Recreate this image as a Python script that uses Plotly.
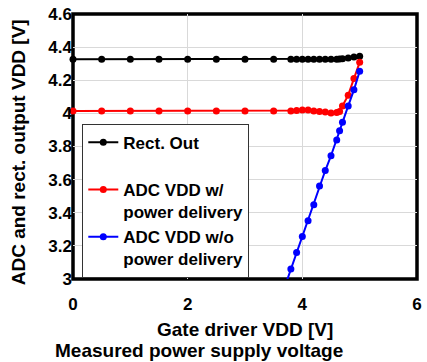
import plotly.graph_objects as go

# Gate driver supply sweep [V]
gate_vdd = [0, 0.5, 1, 1.5, 2, 2.5, 3, 3.5, 3.8, 3.9, 4.0, 4.1, 4.2, 4.3,
            4.4, 4.5, 4.6, 4.65, 4.7, 4.8, 4.9, 5.0]

# Rectifier output [V]
rect_out = [4.327, 4.327, 4.327, 4.327, 4.327, 4.327, 4.327, 4.327, 4.327,
            4.327, 4.327, 4.327, 4.327, 4.327, 4.327, 4.327, 4.327, 4.328,
            4.330, 4.335, 4.340, 4.345]

# ADC supply with power delivery [V]
adc_with_pd = [4.015, 4.015, 4.015, 4.015, 4.015, 4.015, 4.015, 4.015, 4.015,
               4.017, 4.020, 4.020, 4.015, 4.012, 4.008, 4.003, 4.005, 4.012,
               4.045, 4.110, 4.210, 4.308]

# ADC supply without power delivery [V]
gate_vdd_no_pd = [3.5, 3.8, 3.9, 4.0, 4.1, 4.2, 4.3, 4.4, 4.5, 4.6, 4.65,
                  4.7, 4.8, 4.9, 5.0]
adc_without_pd = [2.76, 3.06, 3.16, 3.257, 3.352, 3.448, 3.561, 3.655, 3.744,
                  3.840, 3.895, 3.947, 4.045, 4.142, 4.254]

x_ticks = [0, 2, 4, 6]
y_ticks = [3, 3.2, 3.4, 3.6, 3.8, 4, 4.2, 4.4, 4.6]

FONT = "Liberation Sans, Arial, sans-serif"

fig = go.Figure()
fig.add_trace(go.Scatter(
    x=gate_vdd, y=rect_out, name="Rect. Out<br> ",
    mode="lines+markers", line=dict(color="#000000", width=2),
    marker=dict(color="#000000", size=7), cliponaxis=False))
fig.add_trace(go.Scatter(
    x=gate_vdd, y=adc_with_pd, name="ADC VDD w/<br>power delivery",
    mode="lines+markers", line=dict(color="#ff0000", width=2),
    marker=dict(color="#ff0000", size=7), cliponaxis=False))
fig.add_trace(go.Scatter(
    x=gate_vdd_no_pd, y=adc_without_pd, name="ADC VDD w/o<br>power delivery",
    mode="lines+markers", line=dict(color="#0000ff", width=2),
    marker=dict(color="#0000ff", size=7)))

axis_common = dict(showline=False, ticks="", zeroline=False,
                   showgrid=True, gridcolor="#d9d9d9", gridwidth=1,
                   tickfont=dict(family=FONT, size=17, color="#000000",
                                 weight="bold"))

fig.update_xaxes(range=[0, 6], tickvals=x_ticks, ticklabelstandoff=13,
                 **axis_common)
fig.update_yaxes(range=[3, 4.6], tickvals=y_ticks,
                 ticktext=[f"{v:g}" for v in y_ticks], ticklabelstandoff=0,
                 **axis_common)

# Thick plot frame
fig.add_shape(type="rect", xref="paper", yref="paper", x0=0, x1=1, y0=0, y1=1,
              line=dict(color="#000000", width=3.5), layer="between")

title_font = dict(family=FONT, size=19, color="#000000", weight="bold")
fig.add_annotation(text="ADC and rect. output VDD [V]", textangle=-90,
                   xref="paper", yref="paper", x=-0.16, y=0.478,
                   xanchor="center", yanchor="middle", showarrow=False,
                   font=title_font)
fig.add_annotation(text="Gate driver VDD [V]", xref="paper", yref="paper",
                   x=0.5, y=-0.192, xanchor="center", yanchor="middle",
                   showarrow=False, font=title_font)
fig.add_annotation(text="Measured power supply voltage", xref="paper",
                   yref="paper", x=0.367, y=-0.271, xanchor="center",
                   yanchor="middle", showarrow=False, font=title_font)

fig.update_layout(
    width=427, height=362,
    margin=dict(l=73, r=5, t=11, b=83),
    paper_bgcolor="#ffffff", plot_bgcolor="#ffffff",
    showlegend=True,
    legend=dict(x=0.027, y=0.586, xanchor="left", yanchor="top",
                bgcolor="#ffffff", bordercolor="#333333", borderwidth=1,
                valign="top", tracegroupgap=0,
                entrywidth=137, entrywidthmode="pixels",
                font=dict(family=FONT, size=17, color="#000000",
                          weight="bold")),
)

fig.write_html("out.html")
